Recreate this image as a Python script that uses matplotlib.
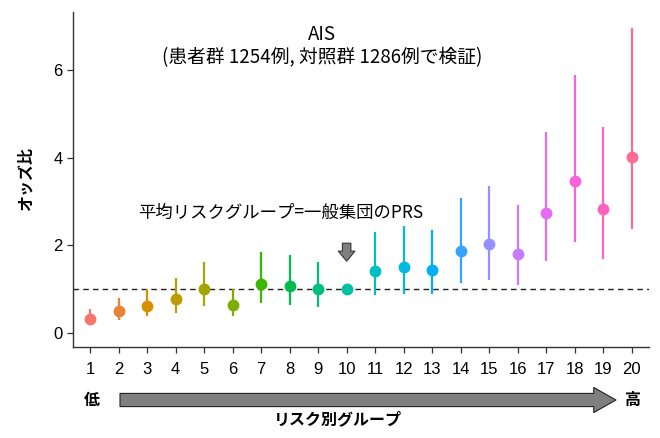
import matplotlib
matplotlib.use("Agg")
import matplotlib.pyplot as plt

plt.rcParams['font.family'] = ['Noto Sans CJK JP', 'DejaVu Sans']

groups = list(range(1, 21))
odds = [0.33, 0.50, 0.62, 0.77, 1.00, 0.63, 1.12, 1.08, 1.00, 1.00,
        1.42, 1.50, 1.43, 1.88, 2.03, 1.80, 2.75, 3.47, 2.82, 4.03]
lower = [0.20, 0.30, 0.38, 0.45, 0.62, 0.38, 0.68, 0.65, 0.60, 1.00,
         0.87, 0.90, 0.88, 1.15, 1.22, 1.10, 1.65, 2.07, 1.68, 2.38]
upper = [0.55, 0.80, 1.00, 1.25, 1.63, 1.00, 1.85, 1.78, 1.63, 1.00,
         2.30, 2.45, 2.35, 3.08, 3.35, 2.93, 4.60, 5.90, 4.70, 6.97]
colors = ["#F8766D", "#EA8331", "#D89000", "#C09B00", "#A3A500", "#7CAE00",
          "#39B600", "#00BB4E", "#00BF7D", "#00C1A3", "#00BFC4", "#00BAE0",
          "#00B0F6", "#35A2FF", "#9590FF", "#C77CFF", "#E76BF3", "#FA62DB",
          "#FF62BC", "#FF6C91"]
yticks = [0, 2, 4, 6]

title = "AIS\n(患者群 1254例, 対照群 1286例で検証)"
note = "平均リスクグループ=一般集団のPRS"
ylabel = "オッズ比"
xlabel = "リスク別グループ"

fig = plt.figure(figsize=(6.6, 4.38), dpi=100)
ax = fig.add_axes([0.1106, 0.2078, 0.8724, 0.7648])

for g, o, lo, hi, c in zip(groups, odds, lower, upper, colors):
    ax.plot([g, g], [lo, hi], color=c, lw=1.6, solid_capstyle='butt', zorder=2)
    ax.plot(g, o, 'o', color=c, ms=7.5, mec=c, zorder=3)

ax.axhline(1, color='#222222', lw=1.0, ls=(0, (4, 3)), zorder=1)

ax.set_xlim(0.4, 20.6)
ax.set_ylim(-0.32, 7.33)
ax.set_xticks(groups)
ax.set_xticklabels([str(g) for g in groups], family=['Liberation Sans', 'Noto Sans CJK JP'], fontsize=12)
ax.set_yticks(yticks)
ax.set_yticklabels([str(v) for v in yticks], family=['Liberation Sans', 'Noto Sans CJK JP'], fontsize=12)
for s in ['top', 'right']:
    ax.spines[s].set_visible(False)
for s in ['left', 'bottom']:
    ax.spines[s].set_color('#333333')
    ax.spines[s].set_linewidth(1.0)
ax.tick_params(axis='both', length=4, width=0.9, color='#333333', labelcolor='black')
ax.tick_params(axis='x', pad=7)

ax.set_ylabel(ylabel, fontsize=11.5, fontweight='bold', labelpad=14)

ax.text(9.15, 6.55, title, ha='center', va='center', fontsize=13.5, linespacing=1.15)
ax.text(7.67, 2.74, note, ha='center', va='center', fontsize=12.5)

ax.annotate('', xy=(10, 1.64), xytext=(10, 2.05), xycoords='data',
            arrowprops=dict(arrowstyle='simple,head_width=0.75,head_length=0.45,tail_width=0.38',
                            mutation_scale=16, fc='#808080', ec='#333333', lw=0.8,
                            shrinkA=0, shrinkB=0))

fig.text(92 / 660, 1 - 400 / 438, "低", ha='center', va='center', fontsize=11.5, fontweight='bold')
fig.text(632 / 660, 1 - 400 / 438, "高", ha='center', va='center', fontsize=11.5, fontweight='bold')
fig.text(338 / 660, 1 - 419 / 438, xlabel, ha='center', va='center', fontsize=11.5, fontweight='bold')

ax.annotate('', xy=(616, 438 - 400), xytext=(120, 438 - 400), xycoords='figure pixels',
            arrowprops=dict(arrowstyle='simple,head_width=18,head_length=16,tail_width=9.5',
                            mutation_scale=1, fc='#7f7f7f', ec='#222222', lw=0.8,
                            shrinkA=0, shrinkB=0))

fig.savefig('out.png', dpi=100)
